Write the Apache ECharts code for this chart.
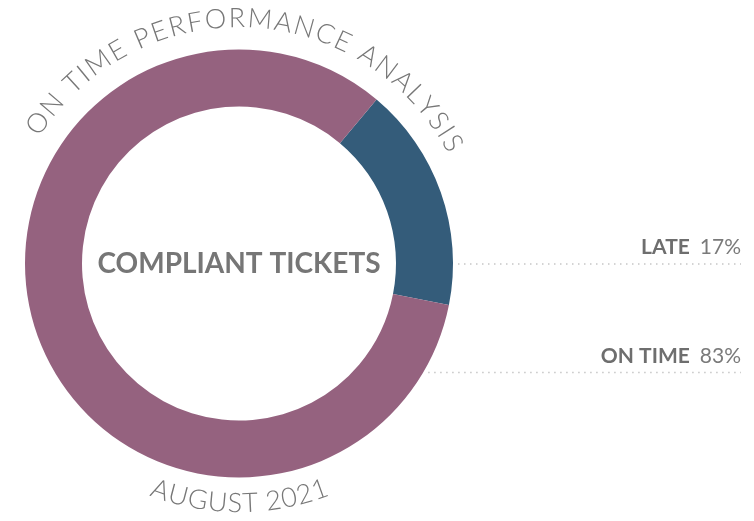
<!DOCTYPE html>
<html>
<head>
<meta charset="utf-8">
<script src="https://cdn.jsdelivr.net/npm/echarts@6/dist/echarts.min.js"></script>
<style>
  html, body { margin: 0; padding: 0; background: #fff; }
  #chart { width: 754px; height: 521px; }
</style>
</head>
<body>
<div id="chart"></div>
<script>
// data
const categories = ['LATE', 'ON TIME'];
const shares = [17, 83];
const sliceColors = ['#345c7a', '#95627f'];
const chartTitle = 'ON TIME PERFORMANCE ANALYSIS';
const periodLabel = 'AUGUST 2021';
const centerLabel = 'COMPLIANT TICKETS';

// layout
const cx = 239, cy = 263.5;
const rInner = 157, rOuter = 214;
const labelRight = 741;
const leaderY = [264, 372.5];
const fontFamily = 'Lato, "Noto Sans", sans-serif';

const measureCtx = document.createElement('canvas').getContext('2d');

// one text element per letter along a circle round the donut.
// top: degrees clockwise from 12 o'clock, bottom: degrees from 6 o'clock (left is negative)
function arcText (text, opts) {
  measureCtx.font = opts.weight + ' ' + opts.size + 'px ' + fontFamily;
  const chars = text.split('');
  const widths = chars.map(c => measureCtx.measureText(c).width);
  const total = widths.reduce((a, b) => a + b, 0);
  const arcLen = opts.r * (opts.to - opts.from) * Math.PI / 180;
  const gap = (arcLen - total) / (chars.length - 1);
  const top = opts.side === 'top';
  let offset = 0;
  return chars.map((c, i) => {
    const a = opts.from * Math.PI / 180 + (offset + widths[i] / 2) / opts.r;
    offset += widths[i] + gap;
    return {
      type: 'text',
      x: cx + opts.r * Math.sin(a),
      y: top ? cy - opts.r * Math.cos(a) : cy + opts.r * Math.cos(a),
      rotation: top ? -a : a,
      silent: true,
      style: {
        text: c,
        fill: opts.color,
        fontSize: opts.size,
        fontWeight: opts.weight,
        fontFamily: fontFamily,
        align: 'center',
        verticalAlign: 'middle',
        textAlign: 'center',
        textVerticalAlign: 'middle'
      }
    };
  });
}

const chart = echarts.init(document.getElementById('chart'));

chart.setOption({
  animation: false,
  backgroundColor: '#fff',
  graphic: [
    ...arcText(chartTitle, { side: 'top', r: 245, from: -57.6, to: 62.3, size: 27, weight: 300, color: '#777777' }),
    ...arcText(periodLabel, { side: 'bottom', r: 240, from: -21.3, to: 21.5, size: 27, weight: 300, color: '#777777' }),
    {
      type: 'text',
      x: cx,
      y: cy,
      silent: true,
      style: {
        text: centerLabel,
        fill: '#767676',
        fontSize: 28,
        fontWeight: 'bold',
        fontFamily: fontFamily,
        align: 'center',
        verticalAlign: 'middle',
        textAlign: 'center',
        textVerticalAlign: 'middle'
      }
    }
  ],
  series: [{
    type: 'pie',
    center: [cx, cy],
    radius: [rInner, rOuter],
    startAngle: 50,
    clockwise: true,
    silent: true,
    emphasis: { disabled: true },
    data: categories.map((name, i) => ({
      name: name,
      value: shares[i],
      itemStyle: { color: sliceColors[i] }
    })),
    label: {
      show: true,
      position: 'outside',
      width: 220,
      overflow: 'none',
      formatter: p => '{b|' + p.name + '}{v|' + p.value + '%}',
      rich: {
        b: { fontFamily: fontFamily, fontSize: 21, fontWeight: 'bold', color: '#6e6e6e' },
        v: { fontFamily: fontFamily, fontSize: 21, fontWeight: 'normal', color: '#7a7a7a', padding: [0, 0, 0, 10] }
      }
    },
    labelLine: {
      show: true,
      lineStyle: { color: '#c6c6c6', width: 1.5, type: [1.5, 4.5] }
    },
    labelLayout: p => {
      const y = leaderY[p.dataIndex];
      const x0 = cx + Math.sqrt(rOuter * rOuter - (y - cy) * (y - cy)) + 5;
      return {
        x: labelRight,
        y: y - 6,
        align: 'right',
        verticalAlign: 'bottom',
        labelLinePoints: [[x0, y], [x0, y], [labelRight, y]]
      };
    }
  }]
});
</script>
</body>
</html>
